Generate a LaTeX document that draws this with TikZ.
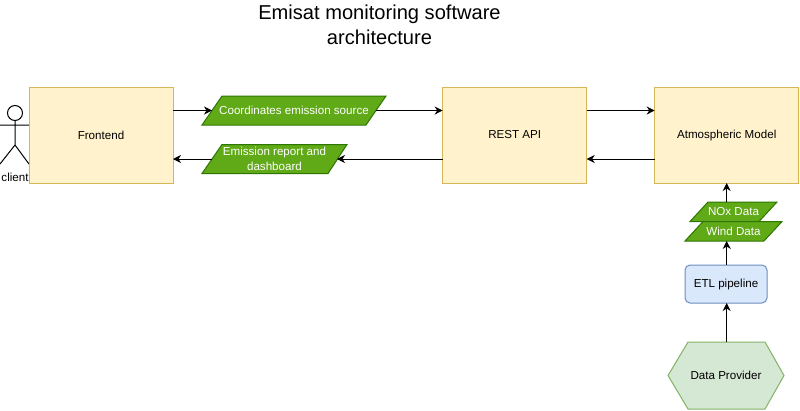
\documentclass[tikz,border=0pt]{standalone}
\usepackage{fontspec}
\setmainfont{Liberation Sans}
\usetikzlibrary{arrows.meta}
\definecolor{boxfill}{HTML}{FFF2CC}
\definecolor{boxline}{HTML}{D6B656}
\definecolor{datafill}{HTML}{60A917}
\definecolor{dataline}{HTML}{2D7600}
\definecolor{etlfill}{HTML}{DAE8FC}
\definecolor{etlline}{HTML}{6C8EBF}
\definecolor{provfill}{HTML}{D5E8D4}
\definecolor{provline}{HTML}{82B366}
\tikzset{
  x=1pt,y=-1pt,
  lbl/.style={font=\fontsize{11.6}{14.4}\selectfont,align=center,inner sep=0pt,outer sep=0pt},
  bigbox/.style={lbl,draw=boxline,fill=boxfill,line width=1pt,minimum width=144pt,minimum height=96pt},
  datashape/.style={draw=dataline,fill=datafill,line width=1pt},
  datatext/.style={lbl,text=white},
  link/.style={line width=1pt,-{Stealth[length=8pt,width=8pt,inset=2.5pt]},draw=black},
  actorline/.style={line width=1pt,draw=black}
}
\begin{document}
\begin{tikzpicture}
\useasboundingbox (0,0) rectangle (800,410);
\fill[white] (0,0) rectangle (800,410);
% title
\node[lbl,font=\fontsize{20.1}{25}\selectfont] (title) at (379.5,24.5) {Emisat monitoring software\\architecture};
% actor
\draw[actorline] (15,113) circle (7.5);
\draw[actorline] (15,120.5) -- (15,145) (0,125) -- (29,125) (0,164) -- (15,145) -- (29,164);
\node[lbl] (client) at (15,177) {client};
% boxes
\node[bigbox] (frontend) at (101,135) {Frontend};
\node[bigbox] (rest) at (514.7,135) {REST API};
\node[bigbox] (atmos) at (726.7,135) {Atmospheric Model};
% data
\draw[datashape] (202,125) -- (222,96) -- (386,96) -- (366,125) -- cycle;
\node[datatext,minimum width=164pt,minimum height=29pt] (coord) at (294,110.5) {Coordinates emission source};
\draw[datashape] (202,173.5) -- (222,144.5) -- (347,144.5) -- (328,173.5) -- cycle;
\node[datatext,minimum width=125pt,minimum height=29pt] (report) at (274.5,159) {Emission report and\\dashboard};
\draw[datashape] (690,221.5) -- (708,202) -- (777,202) -- (759,221.5) -- cycle;
\node[datatext,minimum width=69pt,minimum height=19.5pt] (nox) at (733.5,211.7) {NOx Data};
\draw[datashape] (685,241) -- (703,221.5) -- (782,221.5) -- (764,241) -- cycle;
\node[datatext,minimum width=79pt,minimum height=19.5pt] (wind) at (733.5,231.2) {Wind Data};
\node[lbl,draw=etlline,fill=etlfill,line width=1pt,rounded corners=5pt,minimum width=82pt,minimum height=38pt] (etl) at (726,284) {ETL pipeline};
\draw[draw=provline,fill=provfill,line width=1pt] (668,375.5) -- (688,342) -- (765,342) -- (784,375.5) -- (765,409) -- (688,409) -- cycle;
\node[lbl,minimum width=116pt,minimum height=67pt] (provider) at (726,375.5) {Data Provider};
% connectors
\draw[link] (coord.west -| frontend.east) -- (coord.west);
\draw[link] (coord.east) -- (coord.east -| rest.west);
\draw[link] (report.east -| rest.west) -- (report.east);
\draw[link] (report.west) -- (report.west -| frontend.east);
\draw[link] (coord.east -| rest.east) -- (coord.east -| atmos.west);
\draw[link] (report.east -| atmos.west) -- (report.east -| rest.east);
\draw[link] (provider.north -| atmos.south) -- (etl.south -| atmos.south);
\draw[link] (etl.north -| atmos.south) -- (wind.south -| atmos.south);
\draw[link] (nox.north -| atmos.south) -- (atmos.south);
\end{tikzpicture}
\end{document}
